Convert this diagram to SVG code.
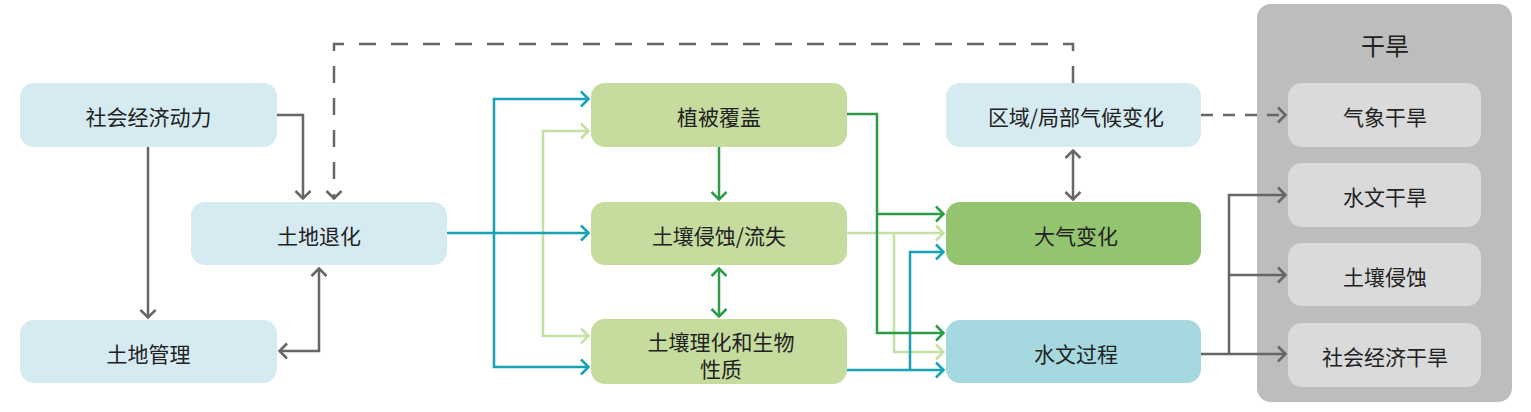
<svg xmlns="http://www.w3.org/2000/svg" width="1531" height="412" viewBox="0 0 1531 412">
<style>
text{font-family:"Noto Sans CJK SC","Noto Sans",sans-serif;font-size:21px;fill:#222;text-anchor:middle;dominant-baseline:central}
.blue{fill:#d5ebf1}
.green{fill:#c6dc9f}
.dgreen{fill:#93c46f}
.teal{fill:#a6d8e0}
.grayc{fill:#bdbdbd}
.grayi{fill:#dadada}
.c{fill:none;stroke-width:2.5}
.g{stroke:#666}
.t{stroke:#17a3b4}
.dg{stroke:#2e9b48}
.lg{stroke:#c4e0a2}
.d1{stroke-dasharray:17 15}
.d2{stroke-dasharray:12 10}
</style>
<defs>
<marker id="mg" viewBox="0 0 12 18" refX="10" refY="9" markerWidth="12" markerHeight="18" markerUnits="userSpaceOnUse" orient="auto-start-reverse"><path d="M2,1.5 L9.5,9 L2,16.5" fill="none" stroke="#666" stroke-width="2.5"/></marker>
<marker id="mt" viewBox="0 0 12 18" refX="10" refY="9" markerWidth="12" markerHeight="18" markerUnits="userSpaceOnUse" orient="auto-start-reverse"><path d="M2,1.5 L9.5,9 L2,16.5" fill="none" stroke="#17a3b4" stroke-width="2.5"/></marker>
<marker id="mdg" viewBox="0 0 12 18" refX="10" refY="9" markerWidth="12" markerHeight="18" markerUnits="userSpaceOnUse" orient="auto-start-reverse"><path d="M2,1.5 L9.5,9 L2,16.5" fill="none" stroke="#2e9b48" stroke-width="2.5"/></marker>
<marker id="mlg" viewBox="0 0 12 18" refX="10" refY="9" markerWidth="12" markerHeight="18" markerUnits="userSpaceOnUse" orient="auto-start-reverse"><path d="M2,1.5 L9.5,9 L2,16.5" fill="none" stroke="#c4e0a2" stroke-width="2.5"/></marker>
</defs>

<g id="drought">
<rect class="grayc" x="1257" y="4" width="255" height="398" rx="14"/>
<text x="1385" y="44" style="font-size:24px">干旱</text>
</g>

<g id="n1"><rect class="blue" x="20" y="83" width="257" height="64" rx="14"/><text x="148.5" y="116">社会经济动力</text></g>
<g id="n2"><rect class="blue" x="191" y="202" width="256" height="63" rx="14"/><text x="319" y="235">土地退化</text></g>
<g id="n3"><rect class="blue" x="20" y="320" width="257" height="63" rx="14"/><text x="148.5" y="353">土地管理</text></g>
<g id="n4"><rect class="green" x="591" y="83" width="256" height="64" rx="14"/><text x="719" y="116">植被覆盖</text></g>
<g id="n5"><rect class="green" x="591" y="202" width="256" height="63" rx="14"/><text x="719" y="235">土壤侵蚀/流失</text></g>
<g id="n6"><rect class="green" x="591" y="319" width="256" height="65" rx="14"/><text x="721" y="341">土壤理化和生物</text><text x="721" y="368">性质</text></g>
<g id="n7"><rect class="blue" x="946" y="83" width="255" height="64" rx="14"/><text x="1076" y="116">区域/局部气候变化</text></g>
<g id="n8"><rect class="dgreen" x="946" y="202" width="255" height="63" rx="14"/><text x="1076" y="235">大气变化</text></g>
<g id="n9"><rect class="teal" x="946" y="320" width="255" height="63" rx="14"/><text x="1076" y="353">水文过程</text></g>
<g id="n10"><rect class="grayi" x="1288" y="83" width="193" height="64" rx="14"/><text x="1385" y="116">气象干旱</text></g>
<g id="n11"><rect class="grayi" x="1288" y="163" width="193" height="64" rx="14"/><text x="1385" y="196">水文干旱</text></g>
<g id="n12"><rect class="grayi" x="1288" y="243" width="193" height="63" rx="14"/><text x="1385" y="276">土壤侵蚀</text></g>
<g id="n13"><rect class="grayi" x="1288" y="323" width="193" height="64" rx="14"/><text x="1385" y="356">社会经济干旱</text></g>

<g id="connectors">
<path class="c g" d="M277,115 H303 V199" marker-end="url(#mg)"/>
<path class="c g" d="M148,147 V318" marker-end="url(#mg)"/>
<path class="c g" d="M319,268 V351 H279" marker-start="url(#mg)" marker-end="url(#mg)"/>
<path class="c g d1" d="M1073,83 V44 H334 V199" marker-end="url(#mg)"/>
<path class="c g d2" d="M1201,115 H1286" marker-end="url(#mg)"/>
<path class="c g" d="M1073,150 V200" marker-start="url(#mg)" marker-end="url(#mg)"/>
<path class="c g" d="M1201,354 H1286" marker-end="url(#mg)"/>
<path class="c g" d="M1229,354 V195 H1286" marker-end="url(#mg)"/>
<path class="c g" d="M1229,275 H1286" marker-end="url(#mg)"/>

<path class="c lg" d="M589,131 H543 V336 H589" marker-start="url(#mlg)" marker-end="url(#mlg)"/>
<path class="c t" d="M589,99 H494 V367 H589" marker-start="url(#mt)" marker-end="url(#mt)"/>
<path class="c t" d="M447,233 H589" marker-end="url(#mt)"/>

<path class="c dg" d="M719,147 V200" marker-end="url(#mdg)"/>
<path class="c dg" d="M719,268 V317" marker-start="url(#mdg)" marker-end="url(#mdg)"/>

<path class="c lg" d="M847,233 H944" marker-end="url(#mlg)"/>
<path class="c lg" d="M894,233 V352 H944" marker-end="url(#mlg)"/>
<path class="c t" d="M847,370 H944" marker-end="url(#mt)"/>
<path class="c t" d="M910,370 V252 H944" marker-end="url(#mt)"/>
<path class="c dg" d="M847,114 H877 V333 H944" marker-end="url(#mdg)"/>
<path class="c dg" d="M877,214 H944" marker-end="url(#mdg)"/>
</g>
</svg>
